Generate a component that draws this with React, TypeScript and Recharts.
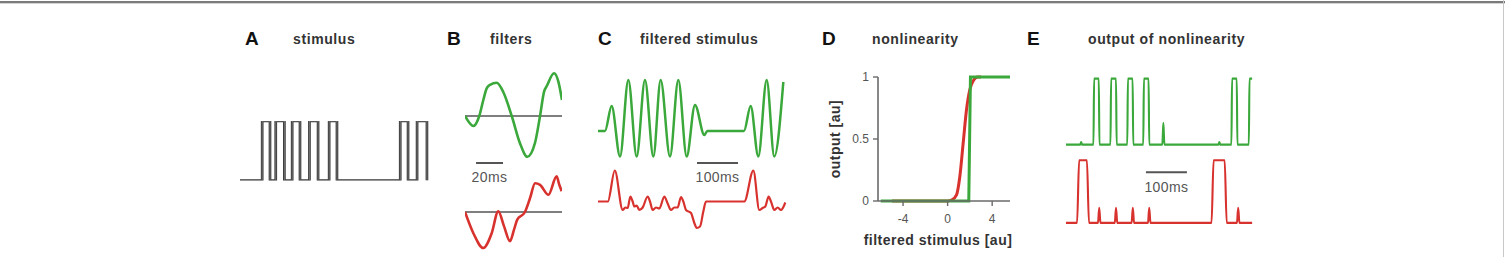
import React from "react";
import { LineChart, Line, XAxis, YAxis, ReferenceLine, Label } from "recharts";

type Pt = [number, number];

const GREEN = "#3ba83b";
const RED = "#d8322e";
const GREY = "#555";

// A: square pulse train, t in ms
const stimulus: Pt[] = [
  [0, 0], [54, 0], [54, 1], [73, 1], [73, 0],
  [87, 0], [87, 1], [108, 1], [108, 0],
  [127, 0], [127, 1], [146, 1], [146, 0],
  [169, 0], [169, 1], [190, 1], [190, 0],
  [217, 0], [217, 1], [236, 1], [236, 0],
  [390, 0], [390, 1], [409, 1], [409, 0],
  [431, 0], [431, 1], [455, 1], [455, 0],
];

// B: temporal filters, t in ms
const filterGreen: Pt[] = [
  [0, 0], [6.2, -0.25], [10.6, 0], [13.6, 0.4], [16.1, 0.69], [18.6, 0.78],
  [23.5, 0.83], [28.4, 0.6], [34.7, 0], [40.8, -0.68], [46.3, -1.02],
  [51.9, -0.68], [55.7, 0], [58.7, 0.61], [60.7, 0.75], [66.1, 1.07],
  [69.3, 0.86], [72, 0.4],
];
const filterRed: Pt[] = [
  [0, 0], [6.2, -0.53], [13.6, -0.9], [19.8, -0.53], [24.7, 0.02],
  [29, -0.36], [33.4, -0.73], [36.4, -0.44], [38.8, -0.19], [44.5, 0],
  [48.3, 0.35], [52, 0.72], [55.7, 0.68], [61.9, 0.43], [68, 0.89],
  [70, 0.68], [71.8, 0.52],
];

// C: stimulus convolved with each filter
const filteredGreen: Pt[] = [
  [0, 0], [17, 0], [33.3, 0.5], [53.7, -0.51], [74, 1.02], [94.3, -0.51],
  [114.6, 1.02], [135, -0.51], [152.8, 1.02], [175.6, -0.51], [195.9, 1.02],
  [216.3, -0.51], [236.6, 0.52], [259.4, -0.08], [266.7, 0], [356, 0],
  [372.4, 0.5], [391, -0.51], [411.4, 1.02], [430, -0.51], [452, 0.98],
];
const filteredRed: Pt[] = [
  [0, 0], [24, 0], [41, 0.62], [60.2, -0.17], [66.7, -0.12], [72.4, -0.13],
  [78.9, 0.1], [84.6, 0], [88.6, -0.1], [94.3, -0.08], [100.8, -0.17],
  [109, -0.12], [121.1, 0.1], [126.8, 0], [133.3, -0.17], [141.5, -0.12],
  [149.6, -0.14], [161.8, 0.1], [169.9, -0.04], [178, -0.17], [186.2, -0.12],
  [194.3, -0.12], [202.4, 0.09], [208.1, 0], [214.6, -0.17], [226.8, -0.23],
  [235, -0.43], [240.7, -0.53], [248.8, -0.5], [256.9, -0.2], [263.4, 0],
  [356.9, 0], [378.9, 0.62], [393.5, -0.17], [401.6, -0.13], [408.1, -0.1],
  [416.2, 0.1], [421.9, 0], [430, -0.17], [438.2, -0.12], [446.3, -0.17],
  [456.9, -0.02],
];

// D: static nonlinearities
const nlGreen: Pt[] = [[-6, 0], [1.9, 0], [2.05, 1], [5.6, 1]];
const nlRed: Pt[] = [
  [-5, 0], [0, 0], [0.4, 0.01], [0.8, 0.05], [1.1, 0.2], [1.4, 0.47],
  [1.7, 0.74], [2.0, 0.9], [2.3, 0.97], [2.7, 1], [3, 1],
];
const nlXTicks = [-4, 0, 4];
const nlYTicks = [0, 0.5, 1];

// E: nonlinearity applied to the filtered stimulus
const outGreen: Pt[] = [
  [0, 0], [35, 0], [37, 0.04], [39, 0], [67, 0], [68.5, 1], [80, 1], [81.5, 0],
  [108.5, 0], [110, 1], [122, 1], [123.5, 0], [149.5, 0], [151, 1], [162.5, 1],
  [164, 0], [188.5, 0], [190, 1], [201.5, 1], [203, 0], [235, 0], [237.5, 0.33],
  [240, 0], [372, 0], [374, 0.04], [376, 0], [403.5, 0], [405, 1], [416.5, 1],
  [418, 0], [446, 0], [447.5, 1], [454, 1],
];
const outRed: Pt[] = [
  [0, 0], [27, 0], [32, 1], [51, 1], [56, 0], [78, 0], [81, 0.24], [84, 0],
  [119, 0], [122, 0.24], [125, 0], [160, 0], [163, 0.24], [166, 0], [200, 0],
  [203, 0.24], [206, 0], [355, 0], [360, 1], [387, 1], [392, 0], [417, 0],
  [420, 0.24], [423, 0], [454, 0],
];

const panels = [
  { letter: "A", title: "stimulus", lx: 245, tx: 293 },
  { letter: "B", title: "filters", lx: 447, tx: 490 },
  { letter: "C", title: "filtered stimulus", lx: 598, tx: 640 },
  { letter: "D", title: "nonlinearity", lx: 822, tx: 872 },
  { letter: "E", title: "output of nonlinearity", lx: 1027, tx: 1088 },
];

const rows = (pts: Pt[]) => pts.map(([t, v]) => ({ t, v }));

type Pad = { top: number; right: number; bottom: number; left: number };

interface TraceProps {
  pts: Pt[];
  color: string;
  width: number;
  box: [number, number, number, number];
  xDomain: [number, number];
  yDomain: [number, number];
  curve?: "monotone" | "linear";
  pad?: Pad;
  inner?: { color: string; width: number };
  children?: React.ReactNode;
}

function Trace({
  pts, color, width, box, xDomain, yDomain, curve = "monotone",
  pad = { top: 6, right: 6, bottom: 6, left: 6 }, inner, children,
}: TraceProps) {
  const [x0, y0, x1, y1] = box;
  return (
    <div style={{ position: "absolute", left: x0 - pad.left, top: y0 - pad.top }}>
      <LineChart
        width={x1 - x0 + pad.left + pad.right}
        height={y1 - y0 + pad.top + pad.bottom}
        margin={pad}
        data={rows(pts)}
      >
        <XAxis dataKey="t" type="number" domain={xDomain} hide allowDataOverflow />
        <YAxis type="number" domain={yDomain} hide allowDataOverflow />
        {children}
        <Line
          dataKey="v"
          type={curve}
          stroke={color}
          strokeWidth={width}
          strokeLinejoin="round"
          dot={false}
          isAnimationActive={false}
        />
        {inner && (
          <Line
            dataKey="v"
            type={curve}
            stroke={inner.color}
            strokeWidth={inner.width}
            dot={false}
            isAnimationActive={false}
          />
        )}
      </LineChart>
    </div>
  );
}

const barLabel = (value: string, offset: number) => ({
  value,
  position: "bottom" as const,
  offset,
  fill: GREY,
  fontSize: 14,
  letterSpacing: 0.4,
});

export default function App() {
  return (
    <div
      style={{
        position: "absolute",
        left: 0,
        top: 0,
        width: 1505,
        height: 257,
        overflow: "hidden",
        background: "#fff",
        fontFamily: "'Liberation Sans', Arial, sans-serif",
      }}
    >
      <div style={{ position: "absolute", left: 0, top: 1, width: 1505, height: 2, background: "#7a7a7a" }} />
      <div style={{ position: "absolute", left: 0, top: 3, width: 1505, height: 1, background: "#d4d4d4" }} />
      <div style={{ position: "absolute", left: 1503, top: 0, width: 1, height: 257, background: "#c8c8c8" }} />

      <svg width={1505} height={257} style={{ position: "absolute", left: 0, top: 0 }}>
        {panels.map((p) => (
          <g key={p.letter}>
            <text x={p.lx} y={45} fontSize={19} fontWeight="bold" fill="#111">
              {p.letter}
            </text>
            <text x={p.tx} y={43.5} fontSize={14} fontWeight="bold" letterSpacing={0.6} fill="#333">
              {p.title}
            </text>
          </g>
        ))}
      </svg>

      {/* A */}
      <Trace
        pts={stimulus}
        color="#383838"
        width={2.7}
        inner={{ color: "#8c8c8c", width: 0.7 }}
        curve="linear"
        box={[240, 121, 429, 180.5]}
        xDomain={[0, 460]}
        yDomain={[0, 1]}
      />

      {/* B */}
      <Trace
        pts={filterGreen}
        color={GREEN}
        width={2.6}
        box={[465, 70, 562, 168]}
        xDomain={[0, 72]}
        yDomain={[-1.3, 1.15]}
        pad={{ top: 6, right: 6, bottom: 22, left: 6 }}
      >
        <ReferenceLine y={0} stroke={GREY} strokeWidth={1.6} />
        <ReferenceLine
          segment={[{ x: 8.2, y: -1.175 }, { x: 28.2, y: -1.175 }]}
          stroke={GREY}
          strokeWidth={2}
          label={barLabel("20ms", 9)}
        />
      </Trace>
      <Trace
        pts={filterRed}
        color={RED}
        width={2.6}
        box={[465, 172, 562, 252]}
        xDomain={[0, 72]}
        yDomain={[-1, 1]}
      >
        <ReferenceLine y={0} stroke={GREY} strokeWidth={1.6} />
      </Trace>

      {/* C */}
      <Trace
        pts={filteredGreen}
        color={GREEN}
        width={2.5}
        box={[598, 76, 786.6, 166]}
        xDomain={[0, 460]}
        yDomain={[-0.7, 1.1]}
        pad={{ top: 6, right: 6, bottom: 24, left: 6 }}
      >
        <ReferenceLine
          segment={[{ x: 241.5, y: -0.64 }, { x: 341.5, y: -0.64 }]}
          stroke={GREY}
          strokeWidth={2}
          label={barLabel("100ms", 9)}
        />
      </Trace>
      <Trace
        pts={filteredRed}
        color={RED}
        width={2.2}
        box={[598, 164.2, 786.6, 234.2]}
        xDomain={[0, 460]}
        yDomain={[-0.65, 0.75]}
      />

      {/* D */}
      <div style={{ position: "absolute", left: 820, top: 65 }}>
        <LineChart width={200} height={190} margin={{ top: 12, right: 10, bottom: 0, left: 0 }}>
          <XAxis
            dataKey="t"
            type="number"
            domain={[-6.25, 5.6]}
            ticks={nlXTicks}
            allowDataOverflow
            height={54}
            tickSize={5}
            tickMargin={8}
            axisLine={{ stroke: "#6a6a6a", strokeWidth: 1.6 }}
            tickLine={{ stroke: "#6a6a6a", strokeWidth: 1.4 }}
            tick={{ fontSize: 12, fill: GREY }}
          >
            <Label
              value="filtered stimulus [au]"
              position="insideBottom"
              offset={10}
              dx={-6}
              fontSize={14}
              fontWeight="bold"
              letterSpacing={0.5}
              fill="#333"
            />
          </XAxis>
          <YAxis
            type="number"
            domain={[0, 1]}
            ticks={nlYTicks}
            width={58}
            tickSize={5}
            tickMargin={4}
            axisLine={{ stroke: "#6a6a6a", strokeWidth: 1.6 }}
            tickLine={{ stroke: "#6a6a6a", strokeWidth: 1.4 }}
            tick={{ fontSize: 12, fill: GREY }}
          >
            <Label
              value="output [au]"
              angle={-90}
              position="insideLeft"
              offset={15}
              fontSize={14}
              fontWeight="bold"
              letterSpacing={0.5}
              fill="#333"
              style={{ textAnchor: "middle" }}
            />
          </YAxis>
          <Line
            data={rows(nlRed)}
            dataKey="v"
            type="monotone"
            stroke={RED}
            strokeWidth={3}
            dot={false}
            isAnimationActive={false}
          />
          <Line
            data={rows(nlGreen)}
            dataKey="v"
            type="linear"
            stroke={GREEN}
            strokeWidth={3}
            dot={false}
            isAnimationActive={false}
          />
        </LineChart>
      </div>

      {/* E */}
      <Trace
        pts={outGreen}
        color={GREEN}
        width={2.1}
        box={[1066, 72.4, 1254.6, 178]}
        xDomain={[0, 460]}
        yDomain={[-0.5, 1.1]}
        pad={{ top: 6, right: 6, bottom: 26, left: 6 }}
      >
        <ReferenceLine
          segment={[{ x: 195, y: -0.42 }, { x: 295, y: -0.42 }]}
          stroke={GREY}
          strokeWidth={2}
          label={barLabel("100ms", 10)}
        />
      </Trace>
      <Trace
        pts={outRed}
        color={RED}
        width={2.1}
        box={[1066, 153.7, 1254.6, 228.9]}
        xDomain={[0, 460]}
        yDomain={[-0.1, 1.1]}
      />
    </div>
  );
}
